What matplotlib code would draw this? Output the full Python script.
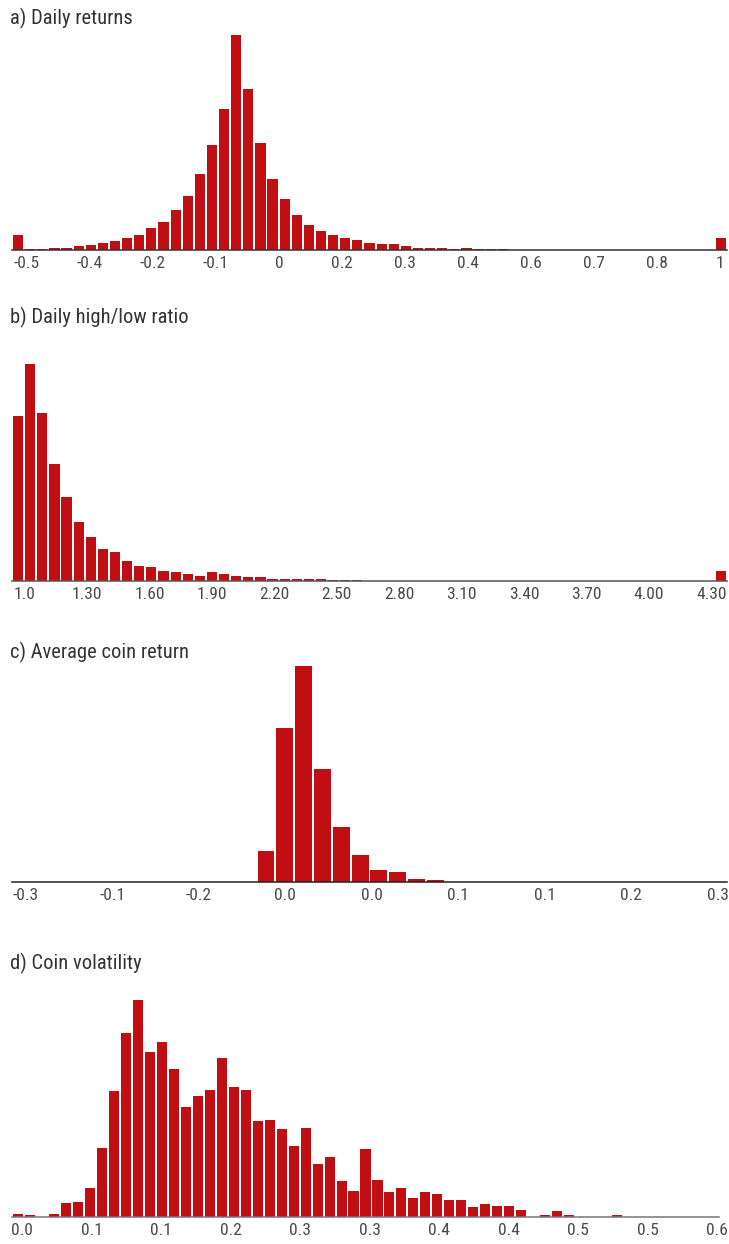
import numpy as np
import matplotlib
matplotlib.use("Agg")
import matplotlib.pyplot as plt
from matplotlib import font_manager

# bar heights (relative units)
returns_counts = [15, 1, 1, 2, 2, 3.7, 5.3, 7, 9, 12, 15, 21.7, 28, 40, 54, 76, 105, 141,
                  215, 161, 107, 71, 51, 35, 25, 19, 15, 12, 10, 7, 5.7, 5.7, 4, 2.3, 2.3,
                  2.3, 1, 2.3, 1, 1, 1] + [0.4] * 17 + [12.3]
returns_labels = ["-0.5", "-0.4", "-0.2", "-0.1", "0", "0.2", "0.3", "0.4", "0.6", "0.7", "0.8", "1"]

hilo_counts = [165, 217, 168, 117, 84, 59, 44, 32, 29, 20, 15, 14, 10, 9, 7, 5.3, 9, 7, 5.3,
               3.7, 3.7, 2, 2, 2, 2, 2, 1, 1, 1] + [0.4] * 29 + [10]
hilo_labels = ["1.0", "1.30", "1.60", "1.90", "2.20", "2.50", "2.80", "3.10", "3.40", "3.70", "4.00", "4.30"]

avg_counts = [0] * 13 + [31.3, 154.7, 216.3, 113, 54.7, 26.7, 12.3, 9.7, 3.3, 2.3] + [0] * 15
avg_labels = ["-0.3", "-0.1", "-0.2", "0.0", "0.0", "0.1", "0.1", "0.2", "0.3"]

vol_counts = [3, 1.7, 0.4, 3, 13.7, 15, 28.7, 69.3, 125.7, 184,
              216.7, 165, 174.7, 147.7, 110, 120.7, 127.3, 158.3, 130, 127.3,
              96.3, 97.3, 88, 70.7, 89.3, 53, 59.7, 35.7, 26, 68,
              36.7, 24.7, 28.7, 19.3, 24.7, 23, 16.7, 16.7, 9.7, 12.7,
              11, 11, 7.3, 0.4, 1.7, 5.7, 1.7, 0.4, 0.4, 0.4,
              1.7, 0.4, 0.4, 0.4, 0.4, 0.4, 0.4, 0.4, 0.4]
vol_labels = ["0.0", "0.1", "0.1", "0.2", "0.3", "0.3", "0.4", "0.4", "0.5", "0.5", "0.6"]

RED = "#c10e12"
W, H = 729, 1244

# condensed face like the original if one is there
names = set(f.name for f in font_manager.fontManager.ttflist)
FONT = "Roboto"
for cand in ["Roboto Condensed", "Liberation Sans Narrow", "Archivo Narrow", "PT Sans Narrow",
             "Open Sans Condensed", "Fira Sans Condensed", "IBM Plex Sans Condensed"]:
    if cand in names:
        FONT = cand
        break
plt.rcParams["font.family"] = [FONT, "DejaVu Sans"]

fig = plt.figure(figsize=(W / 100, H / 100), dpi=100)


def panel(title, title_y, counts, labels, left, right, base, top, tick_lo, tick_hi, barw, axcolor):
    ax = fig.add_axes([left / W, 1 - base / H, (right - left) / W, (base - top) / H])
    n = len(counts)
    ax.bar(np.arange(n), counts, width=barw, color=RED, linewidth=0)
    ax.set_xlim(-0.5, n - 0.5)
    ax.set_ylim(0, max(counts))
    for s in ["top", "right", "left"]:
        ax.spines[s].set_visible(False)
    ax.spines["bottom"].set_color(axcolor)
    ax.spines["bottom"].set_linewidth(1.1)
    ax.set_yticks([])
    ax.set_xticks(np.linspace(tick_lo, tick_hi, len(labels)))
    ax.set_xticklabels(labels)
    ax.tick_params(axis="x", length=0, pad=4, labelsize=12.5, labelcolor="#4a4a4a")
    ax.patch.set_alpha(0)
    fig.text(10 / W, 1 - title_y / H, title, fontsize=14.8, color="#333333", va="center", ha="left")
    return ax


panel("a) Daily returns", 18, returns_counts, returns_labels, 12, 727, 250, 35, 0.75, 57.9, 0.84, "#333333")
panel("b) Daily high/low ratio", 317, hilo_counts, hilo_labels, 12, 727, 581, 364, 0.55, 57.2, 0.84, "#555555")
panel("c) Average coin return", 652, avg_counts, avg_labels, 12, 727, 882, 666, 0.25, 37.0, 0.9, "#222222")
panel("d) Coin volatility", 963, vol_counts, vol_labels, 12, 719, 1217, 1000, 0.33, 58.35, 0.84, "#777777")

fig.savefig("out.png", dpi=100)
